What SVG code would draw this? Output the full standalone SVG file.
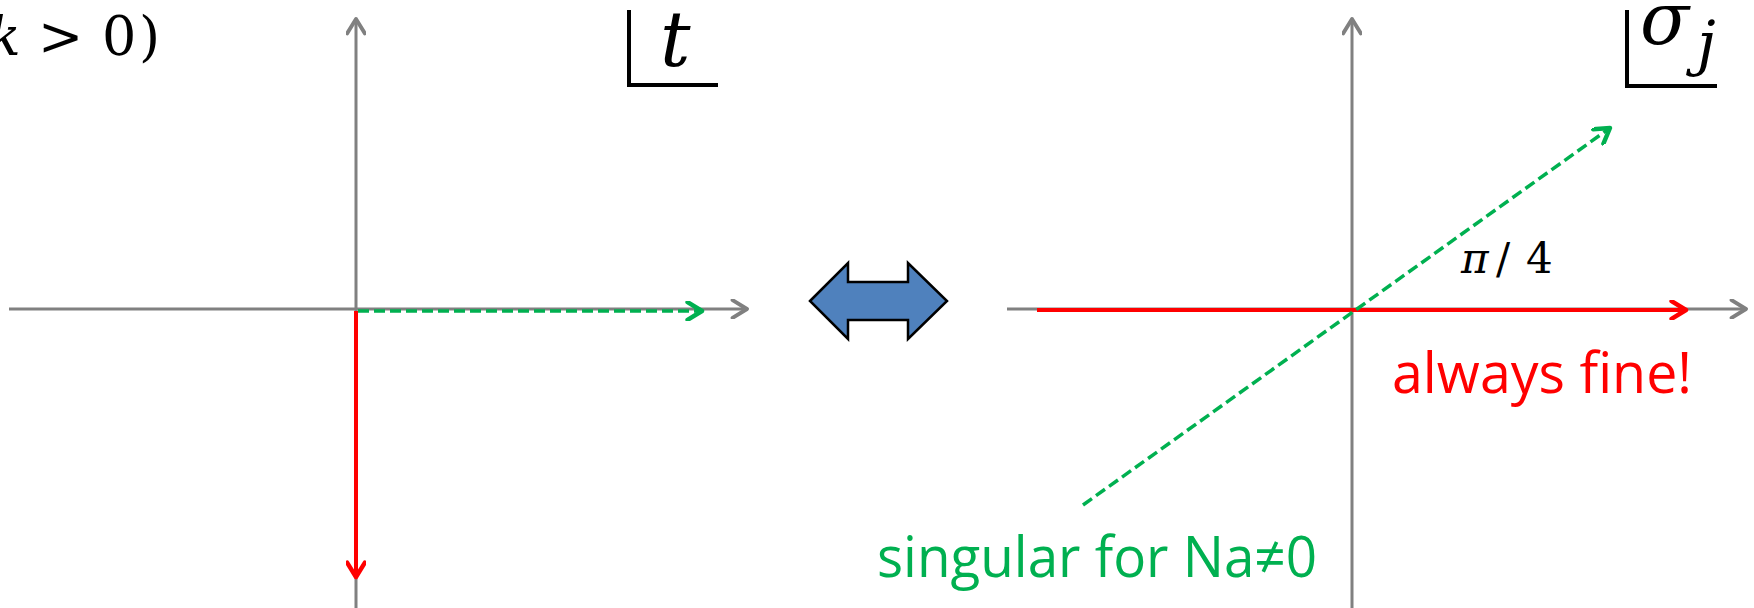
<svg xmlns="http://www.w3.org/2000/svg" width="1754" height="608" viewBox="0 0 1754 608">
<style>
.ax{stroke:#808080;stroke-width:3;fill:none}
.red{stroke:#FF0000;stroke-width:4;fill:none}
.grn{stroke:#00B050;stroke-width:3.5;fill:none;stroke-dasharray:11 5}
.math{font-family:"DejaVu Serif","Liberation Serif",serif;fill:#000}
.lbl{font-family:"Open Sans","Liberation Sans",sans-serif}
.frame{stroke:#000;stroke-width:4;fill:none}
</style>
<defs>
<marker id="ag" markerWidth="20" markerHeight="20" viewBox="-14 -9 16 18" refX="0" refY="0" orient="auto" markerUnits="userSpaceOnUse"><path d="M-13,-8 L0,0 L-13,8" fill="none" stroke="#808080" stroke-width="3.5" stroke-linecap="round" stroke-linejoin="round"/></marker>
<marker id="ar" markerWidth="20" markerHeight="20" viewBox="-14 -9 16 18" refX="0" refY="0" orient="auto" markerUnits="userSpaceOnUse"><path d="M-13,-8 L0,0 L-13,8" fill="none" stroke="#FF0000" stroke-width="4" stroke-linecap="round" stroke-linejoin="round"/></marker>
<marker id="agr" markerWidth="20" markerHeight="20" viewBox="-14 -9 16 18" refX="0" refY="0" orient="auto" markerUnits="userSpaceOnUse"><path d="M-13,-8 L0,0 L-13,8" fill="none" stroke="#00B050" stroke-width="4" stroke-linecap="round" stroke-linejoin="round"/></marker>
</defs>
<rect width="1754" height="608" fill="#fff"/>
<g id="connectors">
<line class="ax" x1="9" y1="309" x2="747" y2="309" marker-end="url(#ag)"/>
<line class="ax" x1="356" y1="608" x2="356" y2="19" marker-end="url(#ag)"/>
<line class="grn" x1="358" y1="311" x2="702" y2="311" marker-end="url(#agr)"/>
<line class="red" x1="356" y1="311" x2="356" y2="577" marker-end="url(#ar)"/>
<line class="ax" x1="1007" y1="309" x2="1746" y2="309" marker-end="url(#ag)"/>
<line class="ax" x1="1352" y1="608" x2="1352" y2="19" marker-end="url(#ag)"/>
<line class="red" x1="1037" y1="310" x2="1686" y2="310" marker-end="url(#ar)"/>
<line class="grn" x1="1083" y1="505" x2="1610" y2="128" marker-end="url(#agr)"/>
</g>
<g id="left-cond"><text class="math" y="55" font-size="54"><tspan x="-12" font-style="italic">k</tspan><tspan x="38">&gt;</tspan><tspan x="102">0</tspan><tspan x="139">)</tspan></text></g>
<g id="t-label">
<path class="frame" d="M629,10 V85 H718"/>
<text class="math" x="660" y="66" font-size="76" font-style="italic">t</text>
</g>
<g id="sigma-label">
<path class="frame" d="M1627,10 V86 H1717"/>
<text class="math" x="1640" y="44" font-size="72" font-style="italic">σ</text>
<text class="math" x="1697" y="64" font-size="60" font-style="italic">j</text>
</g>
<g id="double-arrow">
<path d="M810,301 L848,263 L848,282 L908,282 L908,263 L947,301 L908,339 L908,320 L848,320 L848,339 Z" fill="#4F81BD" stroke="#000" stroke-width="2.5"/>
</g>
<g id="angle-label"><text class="math" y="273" font-size="42"><tspan x="1461" font-style="italic">π</tspan><tspan x="1496">/</tspan><tspan x="1526">4</tspan></text></g>
<g id="singular"><text class="lbl" x="877" y="577" font-size="57" fill="#00B050" textLength="440" lengthAdjust="spacingAndGlyphs">singular for Na≠0</text></g>
<g id="fine"><text class="lbl" x="1392" y="393" font-size="57" fill="#FF0000" textLength="300" lengthAdjust="spacingAndGlyphs">always fine!</text></g>
</svg>
